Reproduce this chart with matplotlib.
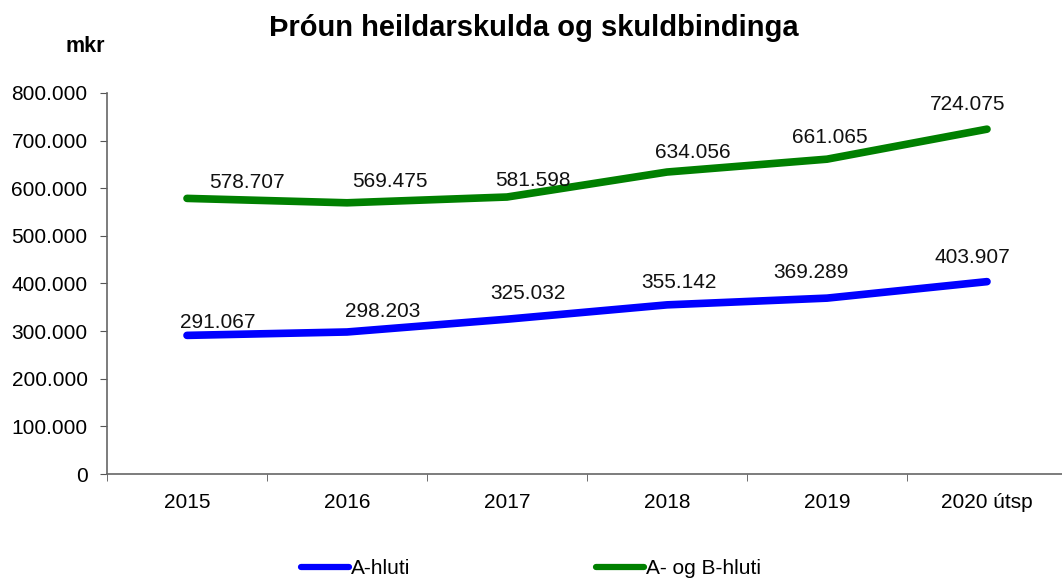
import matplotlib.pyplot as plt
from matplotlib.ticker import FuncFormatter, FixedLocator

plt.rcParams['font.family'] = ['Liberation Sans', 'DejaVu Sans']

years = ['2015', '2016', '2017', '2018', '2019', '2020 útsp']
a_hluti = [291067, 298203, 325032, 355142, 369289, 403907]
ab_hluti = [578707, 569475, 581598, 634056, 661065, 724075]
yticks = [0, 100000, 200000, 300000, 400000, 500000, 600000, 700000, 800000]

# hand placed label offsets (pixels, from the point)
off_a = [(31, 13), (36, 20), (21, 26), (12, 22), (-16, 26), (-15, 24)]
off_ab = [(60, 16), (43, 21), (26, 17), (26, 20), (3, 22), (-19, 25)]

def fmt(v, pos=None):
    return f"{int(v):,}".replace(",", ".")

fig = plt.figure(figsize=(10.62, 5.8), dpi=100)
ax = fig.add_axes([107/1062, 1 - 474/580, 960/1062, (474 - 93)/580])

x = range(len(years))
ax.plot(x, a_hluti, color='#0000ff', lw=5.5, solid_capstyle='round', solid_joinstyle='round', label='A-hluti')
ax.plot(x, ab_hluti, color='#008000', lw=5.5, solid_capstyle='round', solid_joinstyle='round', label='A- og B-hluti')

for i in x:
    ax.annotate(fmt(a_hluti[i]), (i, a_hluti[i]), xytext=(off_a[i][0]*0.72, off_a[i][1]*0.72),
                textcoords='offset points', ha='center', va='center', fontsize=15, color='#111111')
    ax.annotate(fmt(ab_hluti[i]), (i, ab_hluti[i]), xytext=(off_ab[i][0]*0.72, off_ab[i][1]*0.72),
                textcoords='offset points', ha='center', va='center', fontsize=15, color='#111111')

ax.set_xlim(-0.5, len(years) - 0.5)
ax.set_ylim(0, 800000)
ax.set_yticks(yticks)
ax.yaxis.set_major_formatter(FuncFormatter(fmt))
ax.set_xticks(list(x))
ax.set_xticklabels(years)
ax.xaxis.set_minor_locator(FixedLocator([i - 0.5 for i in range(len(years) + 1)]))
ax.tick_params(axis='x', which='major', length=0, pad=14, labelsize=15)
ax.tick_params(axis='x', which='minor', length=5, color='#555555', direction='out')
ax.tick_params(axis='y', length=5, color='#555555', labelsize=15, pad=9)
for s in ['top', 'right']:
    ax.spines[s].set_visible(False)
for s in ['left', 'bottom']:
    ax.spines[s].set_color('#666666')
    ax.spines[s].set_linewidth(1.2)

fig.text(534/1062, 1 - 28/580, 'Þróun heildarskulda og skuldbindinga', ha='center', va='center',
         fontsize=21, fontweight='bold')
fig.text(85/1062, 1 - 47/580, 'mkr', ha='center', va='center', fontsize=15.5, fontweight='bold')

leg = fig.legend(loc='center', bbox_to_anchor=(0.5, 1 - 569/580), ncol=2, frameon=False,
                 fontsize=15, handlelength=2.3, handletextpad=0.1, columnspacing=8.9)
for h in leg.get_lines():
    h.set_linewidth(4.5)

fig.savefig('out.png', dpi=100)
